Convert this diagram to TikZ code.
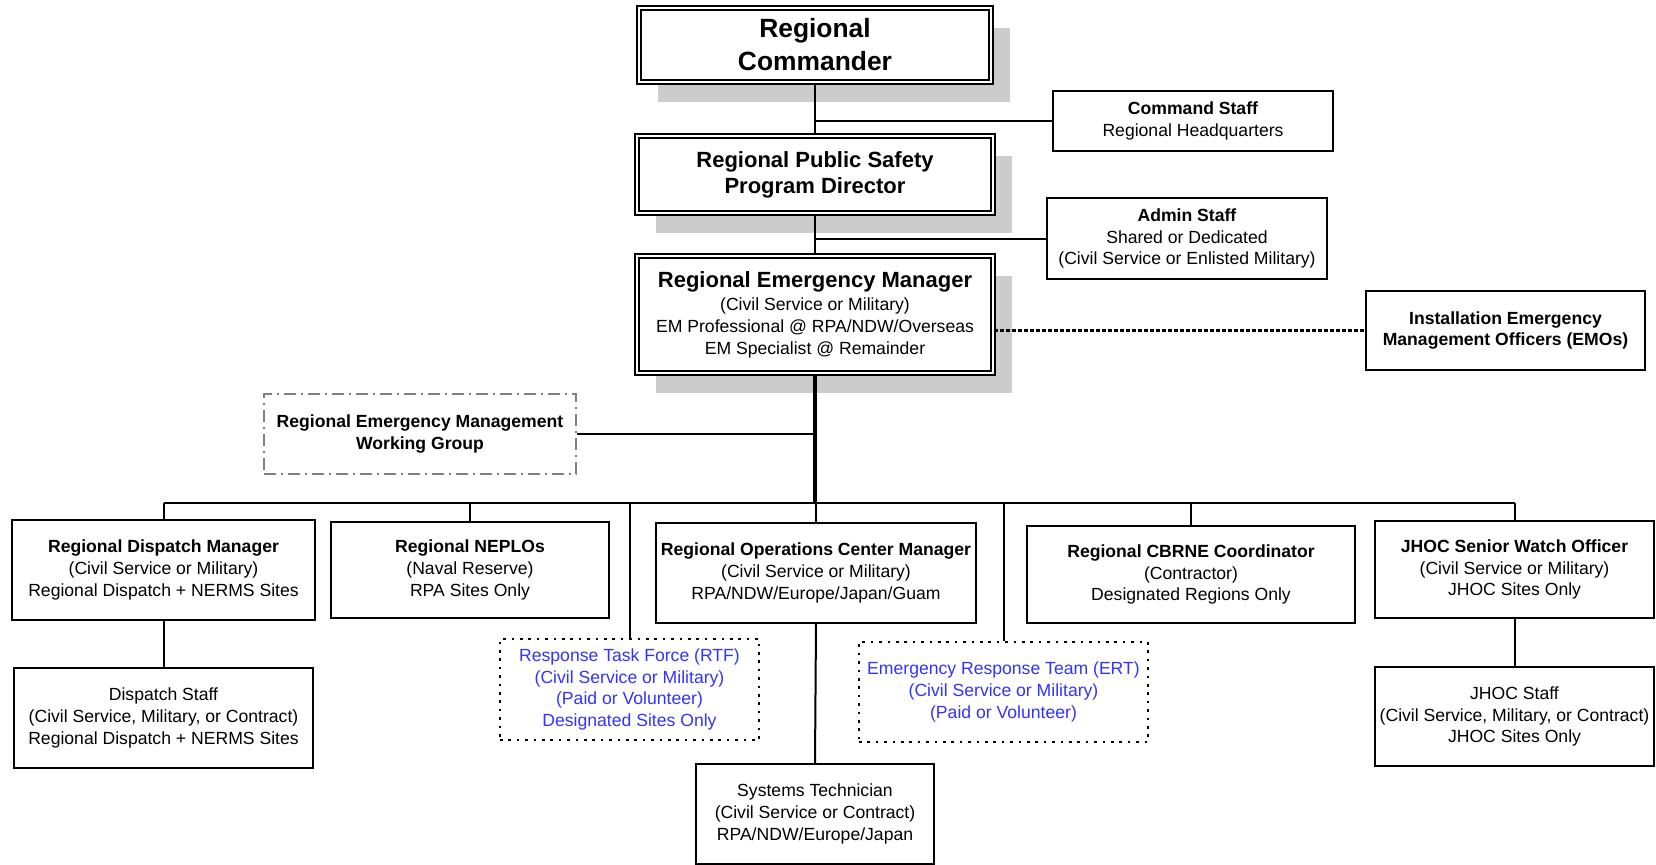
\documentclass[tikz,border=0pt]{standalone}
\usepackage{fontspec}
\setmainfont{Liberation Sans}
\usetikzlibrary{shadows}
\definecolor{shadowgray}{RGB}{204,204,204}
\definecolor{teamblue}{RGB}{51,51,255}
\definecolor{groupgray}{RGB}{128,128,128}

\begin{document}
\begin{tikzpicture}[x=0.5pt, y=-0.5pt,
  every node/.style={align=center, inner sep=0pt, font=\fontsize{8.8}{10.8}\selectfont},
  post/.style={draw, line width=0.9pt, fill=white},
  chief/.style={post, double, double distance=1.4pt, line width=0.6pt,
    font=\fontsize{11}{13}\selectfont\bfseries,
    drop shadow={shadow xshift=9.5pt, shadow yshift=-10pt, fill=shadowgray, opacity=1}},
  team/.style={draw, line width=1.3pt, dash pattern=on 1.3pt off 2.9pt, fill=white, text=teamblue},
  link/.style={line width=1pt}]

   \path[use as bounding box, fill=white] (0,0) rectangle (1656,864);

   % command chain
   \node [chief, font=\fontsize{13.2}{16.5}\selectfont\bfseries, minimum width=176pt, minimum height=37pt]
      (cmdr) at (815,45) {Regional\\Commander};
   \node [chief, minimum width=178pt, minimum height=38.5pt]
      (rpspd) at (815,174.5) {Regional Public Safety\\Program Director};
   \node [chief, font=\fontsize{8.8}{10.8}\selectfont, minimum width=178pt, minimum height=58.5pt]
      (rem) at (815,314.5) {{\fontsize{11}{13}\selectfont\bfseries Regional Emergency Manager}\\[1pt](Civil Service or Military)\\EM Professional @ RPA/NDW/Overseas\\EM Specialist @ Remainder};

   \node [post, minimum width=140pt, minimum height=30pt]
      (cstaff) at (1193,121) {\textbf{Command Staff}\\Regional Headquarters};
   \node [post, minimum width=140pt, minimum height=40.5pt]
      (astaff) at (1187,238.5) {\textbf{Admin Staff}\\Shared or Dedicated\\(Civil Service or Enlisted Military)};
   \node [post, minimum width=139.5pt, minimum height=39.5pt]
      (emo) at (1505.5,330.5) {\textbf{Installation Emergency}\\\textbf{Management Officers (EMOs)}};
   \node [draw=groupgray, line width=1.2pt, dash pattern=on 6pt off 2.5pt on 1pt off 2.5pt,
      minimum width=156pt, minimum height=40pt]
      (wg) at (420,434) {\textbf{Regional Emergency Management}\\\textbf{Working Group}};

   % managers
   \node [post, minimum width=151.5pt, minimum height=50pt]
      (dmgr) at (163.5,570) {\textbf{Regional Dispatch Manager}\\(Civil Service or Military)\\Regional Dispatch + NERMS Sites};
   \node [post, minimum width=139pt, minimum height=48pt]
      (neplo) at (470,570) {\textbf{Regional NEPLOs}\\(Naval Reserve)\\RPA Sites Only};
   \node [post, minimum width=160pt, minimum height=50pt]
      (rocm) at (816,573) {\textbf{Regional Operations Center Manager}\\(Civil Service or Military)\\RPA/NDW/Europe/Japan/Guam};
   \node [post, minimum width=164pt, minimum height=48.5pt]
      (cbrne) at (1191,574.5) {\textbf{Regional CBRNE Coordinator}\\(Contractor)\\Designated Regions Only};
   \node [post, minimum width=139.5pt, minimum height=48.5pt]
      (jswo) at (1514.5,569.5) {\textbf{JHOC Senior Watch Officer}\\(Civil Service or Military)\\JHOC Sites Only};

   % teams and staff
   \node [team, minimum width=129.5pt, minimum height=50.5pt]
      (rtf) at (629.5,689.5) {Response Task Force (RTF)\\(Civil Service or Military)\\(Paid or Volunteer)\\Designated Sites Only};
   \node [team, minimum width=144.5pt, minimum height=50pt]
      (ert) at (1003.5,692) {Emergency Response Team (ERT)\\(Civil Service or Military)\\(Paid or Volunteer)};
   \node [post, minimum width=149.5pt, minimum height=50pt]
      (dstaff) at (163.5,718) {Dispatch Staff\\(Civil Service, Military, or Contract)\\Regional Dispatch + NERMS Sites};
   \node [post, minimum width=119pt, minimum height=50pt]
      (systech) at (815,814) {Systems Technician\\(Civil Service or Contract)\\RPA/NDW/Europe/Japan};
   \node [post, minimum width=139.5pt, minimum height=49.5pt]
      (jstaff) at (1514.5,716.5) {JHOC Staff\\(Civil Service, Military, or Contract)\\JHOC Sites Only};

   \coordinate (bus) at (816,503);

   \draw[link] (cmdr.south) -- (rpspd.north);
   \draw[link] (cmdr.south |- cstaff.west) -- (cstaff.west);
   \draw[link] (rpspd.south) -- (rem.north);
   \draw[link] (rpspd.south |- astaff.west) -- (astaff.west);
   \draw[line width=1.2pt, dash pattern=on 2pt off 1pt] (rem.east |- emo.west) -- (emo.west);
   \draw[line width=2pt] (rem.south) -- (rem.south |- bus);
   \draw[link] (wg.east) -- (rem.south |- wg.east);

   \draw[link] (dmgr.north |- bus) -- (jswo.north |- bus);
   \foreach \n in {dmgr, neplo, rtf, rocm, ert, cbrne, jswo}
      \draw[link] (\n.north |- bus) -- (\n.north);

   \foreach \i/\j in {dmgr/dstaff, rocm/systech, jswo/jstaff}
      \draw[link] (\i.south) -- (\j.north);

\end{tikzpicture}
\end{document}
